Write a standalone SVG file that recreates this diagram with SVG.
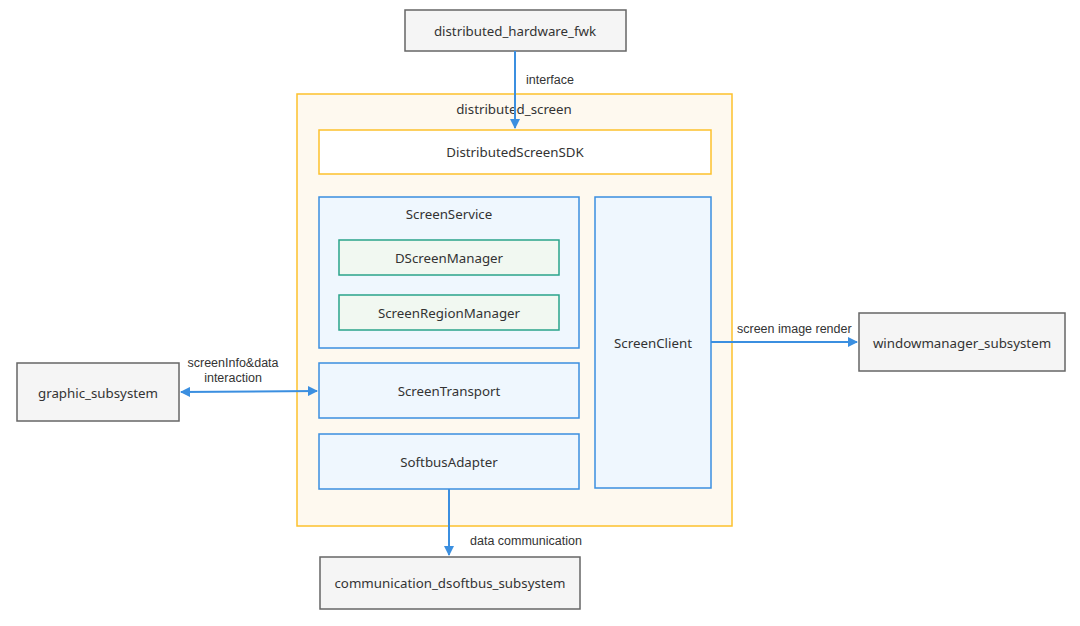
<svg xmlns="http://www.w3.org/2000/svg" width="1080" height="626" viewBox="0 0 1080 626">
<style>
.ext{fill:#f5f5f5;stroke:#666;stroke-width:1.5}
.cont{fill:#fef9ef;stroke:#fdc12c;stroke-width:1.5}
.sdk{fill:#fff;stroke:#fdc12c;stroke-width:1.5}
.blue{fill:#eff7fe;stroke:#3b8fe0;stroke-width:1.5}
.green{fill:#f1f8f1;stroke:#2aa48a;stroke-width:1.5}
.t{font-family:"Noto Sans","Open Sans",sans-serif;font-size:13.3px;fill:#333;text-anchor:middle;dominant-baseline:central}
.e{font-family:"Liberation Sans",Arial,sans-serif;font-size:12.5px;fill:#333}
.c{stroke:#3b8fe0;stroke-width:2;fill:none}
</style>
<defs>
<marker id="ah" viewBox="0 0 10 10" refX="9" refY="5" markerWidth="5" markerHeight="5" orient="auto-start-reverse" markerUnits="strokeWidth">
<path d="M0,0 L10,5 L0,10 z" fill="#3b8fe0"/>
</marker>
</defs>
<rect width="1080" height="626" fill="#fff"/>
<g id="distributed_screen">
<rect class="cont" x="297" y="94" width="435" height="432"/>
<text class="t" x="514" y="109">distributed_screen</text>
</g>
<g id="distributed_hardware_fwk">
<rect class="ext" x="405" y="10" width="221" height="41"/>
<text class="t" x="515" y="31">distributed_hardware_fwk</text>
</g>
<g id="DistributedScreenSDK">
<rect class="sdk" x="319" y="130" width="392" height="44"/>
<text class="t" x="515" y="152">DistributedScreenSDK</text>
</g>
<g id="ScreenService">
<rect class="blue" x="319" y="197" width="260" height="151"/>
<text class="t" x="449" y="214">ScreenService</text>
</g>
<g id="DScreenManager">
<rect class="green" x="339" y="240" width="220" height="35"/>
<text class="t" x="449" y="258">DScreenManager</text>
</g>
<g id="ScreenRegionManager">
<rect class="green" x="339" y="295" width="220" height="35"/>
<text class="t" x="449" y="313">ScreenRegionManager</text>
</g>
<g id="ScreenClient">
<rect class="blue" x="595" y="197" width="116" height="291"/>
<text class="t" x="653" y="343">ScreenClient</text>
</g>
<g id="ScreenTransport">
<rect class="blue" x="319" y="363" width="260" height="55"/>
<text class="t" x="449" y="391">ScreenTransport</text>
</g>
<g id="SoftbusAdapter">
<rect class="blue" x="319" y="434" width="260" height="55"/>
<text class="t" x="449" y="462">SoftbusAdapter</text>
</g>
<g id="graphic_subsystem">
<rect class="ext" x="17" y="363" width="162" height="58"/>
<text class="t" x="98" y="393">graphic_subsystem</text>
</g>
<g id="windowmanager_subsystem">
<rect class="ext" x="859" y="313" width="206" height="58"/>
<text class="t" x="962" y="343">windowmanager_subsystem</text>
</g>
<g id="communication_dsoftbus_subsystem">
<rect class="ext" x="320" y="557" width="260" height="52"/>
<text class="t" x="450" y="583">communication_dsoftbus_subsystem</text>
</g>
<g id="connectors">
<line class="c" x1="515" y1="51" x2="515" y2="128" marker-end="url(#ah)"/>
<text class="e" x="526" y="84">interface</text>
<line class="c" x1="181" y1="392" x2="317" y2="391" marker-start="url(#ah)" marker-end="url(#ah)"/>
<text class="e" x="233" y="367" text-anchor="middle">screenInfo&amp;data</text>
<text class="e" x="233" y="382" text-anchor="middle">interaction</text>
<line class="c" x1="711" y1="342" x2="857" y2="342" marker-end="url(#ah)"/>
<text class="e" x="737" y="333">screen image render</text>
<line class="c" x1="449" y1="489" x2="449" y2="555" marker-end="url(#ah)"/>
<text class="e" x="470" y="545">data communication</text>
</g>
</svg>
